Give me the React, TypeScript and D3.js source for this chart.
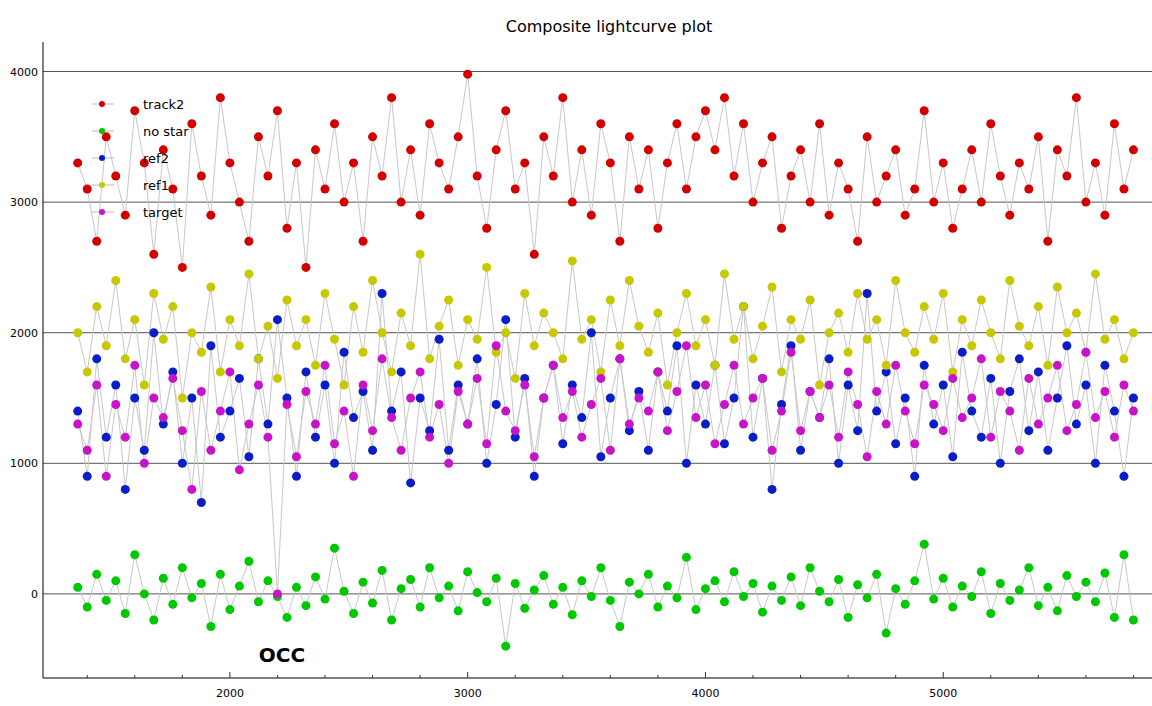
import React, { useRef, useEffect } from 'react';
import * as d3 from 'd3';

const xStart = 1360;
const xStep = 40;

const track2 = [
  3300, 3100, 2700, 3500, 3200, 2900, 3700, 3300, 2600, 3400,
  3100, 2500, 3600, 3200, 2900, 3800, 3300, 3000, 2700, 3500,
  3200, 3700, 2800, 3300, 2500, 3400, 3100, 3600, 3000, 3300,
  2700, 3500, 3200, 3800, 3000, 3400, 2900, 3600, 3300, 3100,
  3500, 3980, 3200, 2800, 3400, 3700, 3100, 3300, 2600, 3500,
  3200, 3800, 3000, 3400, 2900, 3600, 3300, 2700, 3500, 3100,
  3400, 2800, 3300, 3600, 3100, 3500, 3700, 3400, 3800, 3200,
  3600, 3000, 3300, 3500, 2800, 3200, 3400, 3000, 3600, 2900,
  3300, 3100, 2700, 3500, 3000, 3200, 3400, 2900, 3100, 3700,
  3000, 3300, 2800, 3100, 3400, 3000, 3600, 3200, 2900, 3300,
  3100, 3500, 2700, 3400, 3200, 3800, 3000, 3300, 2900, 3600,
  3100, 3400,
];

const ref1 = [
  2000, 1700, 2200, 1900, 2400, 1800, 2100, 1600, 2300, 1950,
  2200, 1500, 2000, 1850, 2350, 1700, 2100, 1900, 2450, 1800,
  2050, 1650, 2250, 1900, 2100, 1750, 2300, 1950, 1600, 2200,
  1850, 2400, 2000, 1700, 2150, 1900, 2600, 1800, 2050, 2250,
  1750, 2100, 1950, 2500, 1850, 2000, 1650, 2300, 1900, 2150,
  2000, 1800, 2550, 1950, 2100, 1700, 2250, 1900, 2400, 2050,
  1850, 2150, 1600, 2000, 2300, 1900, 2100, 1750, 2450, 1950,
  2200, 1800, 2050, 2350, 1700, 2100, 1950, 2250, 1600, 2000,
  2150, 1850, 2300, 1950, 2100, 1750, 2400, 2000, 1850, 2200,
  1950, 2300, 1700, 2100, 1900, 2250, 2000, 1800, 2400, 2050,
  1900, 2200, 1750, 2350, 2000, 2150, 1850, 2450, 1950, 2100,
  1800, 2000,
];

const ref2 = [
  1400, 900, 1800, 1200, 1600, 800, 1500, 1100, 2000, 1300,
  1700, 1000, 1500, 700, 1900, 1200, 1400, 1650, 1050, 1800,
  1300, 2100, 1500, 900, 1700, 1200, 1600, 1000, 1850, 1350,
  1550, 1100, 2300, 1400, 1700, 850, 1500, 1250, 1950, 1100,
  1600, 1300, 1800, 1000, 1450, 2100, 1200, 1650, 900, 1500,
  1750, 1150, 1600, 1350, 2000, 1050, 1500, 1800, 1250, 1550,
  1100, 1700, 1400, 1900, 1000, 1600, 1300, 1750, 1150, 1500,
  2200, 1200, 1650, 800, 1450, 1900, 1100, 1550, 1350, 1800,
  1000, 1600, 1250, 2300, 1400, 1700, 1150, 1500, 900, 1750,
  1300, 1600, 1050, 1850, 1400, 1200, 1650, 1000, 1550, 1800,
  1250, 1700, 1100, 1500, 1900, 1300, 1600, 1000, 1750, 1400,
  900, 1500,
];

const target = [
  1300, 1100, 1600, 900, 1450, 1200, 1750, 1000, 1500, 1350,
  1650, 1250, 800, 1550, 1100, 1400, 1700, 950, 1300, 1600,
  1200, 0, 1450, 1050, 1550, 1300, 1750, 1150, 1400, 900,
  1600, 1250, 1800, 1350, 1100, 1500, 1700, 1200, 1450, 1000,
  1550, 1300, 1650, 1150, 1900, 1400, 1250, 1600, 1050, 1500,
  1750, 1350, 1550, 1200, 1450, 1650, 1100, 1800, 1300, 1500,
  1400, 1700, 1250, 1550, 1900, 1350, 1600, 1150, 1450, 1750,
  1300, 1500, 1650, 1100, 1400, 1850, 1250, 1550, 1350, 1600,
  1200, 1700, 1450, 1050, 1550, 1300, 1750, 1400, 1150, 1600,
  1450, 1250, 1650, 1350, 1500, 1800, 1200, 1550, 1400, 1100,
  1650, 1300, 1500, 1750, 1250, 1450, 1850, 1350, 1550, 1200,
  1600, 1400,
];

const noStar = [
  50, -100, 150, -50, 100, -150, 300, 0, -200, 120,
  -80, 200, -30, 80, -250, 150, -120, 60, 250, -60,
  100, -20, -180, 50, -90, 130, -40, 350, 20, -150,
  90, -70, 180, -200, 40, 110, -100, 200, -30, 60,
  -130, 170, 10, -60, 120, -400, 80, -110, 30, 140,
  -80, 50, -160, 100, -20, 200, -50, -250, 90, 0,
  150, -100, 60, -30, 280, -120, 40, 100, -60, 170,
  -20, 80, -140, 60, -50, 130, -90, 200, 20, -60,
  110, -180, 70, -30, 150, -300, 40, -80, 100, 380,
  -40, 120, -100, 60, -20, 170, -150, 80, -50, 30,
  200, -90, 50, -130, 140, -20, 90, -60, 160, -180,
  300, -200,
];

const legendNames = ['track2', 'no star', 'ref2', 'ref1', 'target'];
const yTicks = [0, 1000, 2000, 3000, 4000];
const xTicks = [2000, 3000, 4000, 5000];

const App: React.FC = () => {
  const ref = useRef<SVGSVGElement | null>(null);

  useEffect(() => {
    if (!ref.current) return;
    const W = 1152, H = 706;
    const left = 43, right = 1152, top = 42, bottom = 678;
    const svg = d3.select(ref.current);
    svg.selectAll('*').remove();
    svg.attr('width', W).attr('height', H).style('font-family', 'DejaVu Sans, sans-serif');

    svg.append('rect').attr('width', W).attr('height', H).attr('fill', '#fff');

    const x = d3.scaleLinear().domain([1214, 5878]).range([left, right]);
    const y = d3.scaleLinear().domain([-644, 4226]).range([bottom, top]);

    svg.append('text').attr('x', 609).attr('y', 32).attr('text-anchor', 'middle')
      .attr('font-size', 16).text('Composite lightcurve plot');

    // grid lines + y labels
    yTicks.forEach(t => {
      svg.append('line').attr('x1', left).attr('x2', right).attr('y1', y(t)).attr('y2', y(t))
        .attr('stroke', '#555').attr('stroke-width', 1);
      svg.append('text').attr('x', 38).attr('y', y(t) + 4).attr('text-anchor', 'end')
        .attr('font-size', 11).text(t);
    });

    // axes
    svg.append('line').attr('x1', left).attr('x2', left).attr('y1', top).attr('y2', bottom).attr('stroke', '#000');
    svg.append('line').attr('x1', left).attr('x2', right).attr('y1', bottom).attr('y2', bottom).attr('stroke', '#000');
    d3.range(1400, 5801, 200).forEach(t => {
      const major = xTicks.includes(t);
      svg.append('line').attr('x1', x(t)).attr('x2', x(t)).attr('y1', bottom).attr('y2', bottom - (major ? 6 : 3))
        .attr('stroke', '#333');
    });
    xTicks.forEach(t => {
      svg.append('text').attr('x', x(t)).attr('y', 697).attr('text-anchor', 'middle')
        .attr('font-size', 11).text(t);
    });

    const series = [
      { data: noStar, color: '#00c800' },
      { data: ref2, color: '#0a1ec8' },
      { data: ref1, color: '#c8c800' },
      { data: target, color: '#c814c8' },
      { data: track2, color: '#d20000' },
    ];

    const line = d3.line<number>().x((_, i) => x(xStart + i * xStep)).y(d => y(d));
    series.forEach(s => {
      svg.append('path').attr('d', line(s.data)).attr('fill', 'none')
        .attr('stroke', '#c8c8c8').attr('stroke-width', 1);
    });
    series.forEach(s => {
      svg.append('g').selectAll('circle').data(s.data).join('circle')
        .attr('cx', (_, i) => x(xStart + i * xStep)).attr('cy', d => y(d))
        .attr('r', 4.5).attr('fill', s.color);
    });

    // legend
    const legendColors = ['#d20000', '#00c800', '#0a1ec8', '#c8c800', '#c814c8'];
    legendNames.forEach((n, i) => {
      const ly = 104 + i * 27;
      svg.append('line').attr('x1', 92).attr('x2', 114).attr('y1', ly).attr('y2', ly).attr('stroke', '#bbb');
      svg.append('circle').attr('cx', 102).attr('cy', ly).attr('r', 3).attr('fill', legendColors[i]);
      svg.append('text').attr('x', 143).attr('y', ly + 5).attr('font-size', 13).text(n);
    });

    svg.append('text').attr('x', 282).attr('y', 662).attr('text-anchor', 'middle')
      .attr('font-size', 20).attr('font-weight', 'bold').text('OCC');
  }, []);

  return <svg ref={ref} style={{ position: 'absolute', left: 0, top: 0 }} />;
};

export default App;
